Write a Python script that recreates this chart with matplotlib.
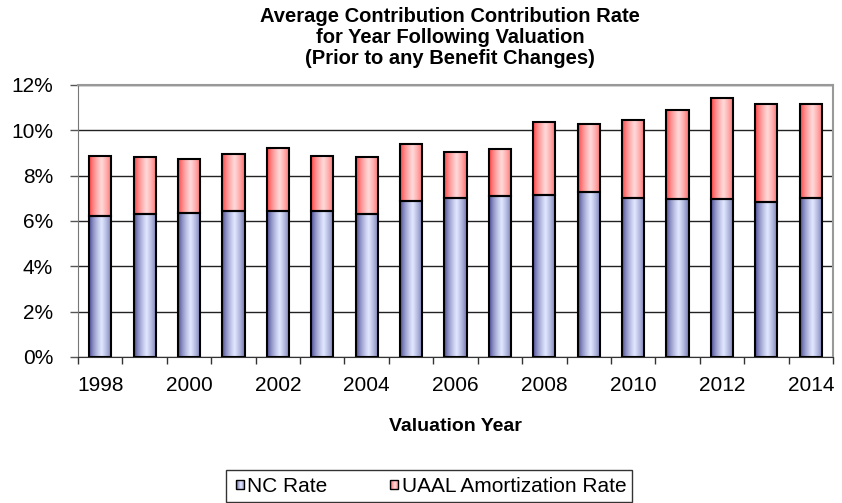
import matplotlib
matplotlib.use("Agg")
import matplotlib.pyplot as plt
import numpy as np
from matplotlib.patches import Rectangle
from matplotlib.ticker import PercentFormatter
from matplotlib.legend_handler import HandlerBase
from matplotlib.image import BboxImage
from matplotlib.transforms import Bbox, TransformedBbox

plt.rcParams['font.family'] = ['Liberation Sans', 'DejaVu Sans']

years = list(range(1998, 2015))
nc_rate = [6.24, 6.30, 6.34, 6.43, 6.46, 6.46, 6.31, 6.90, 7.03,
           7.09, 7.14, 7.28, 7.00, 6.99, 6.99, 6.84, 7.03]
total_rate = [8.88, 8.81, 8.75, 8.97, 9.23, 8.88, 8.81, 9.41, 9.03,
              9.19, 10.38, 10.26, 10.45, 10.89, 11.42, 11.16, 11.17]
uaal_rate = [t - n for t, n in zip(total_rate, nc_rate)]

yticks = [0, 2, 4, 6, 8, 10, 12]


def gradient(dark, light, n=64):
    # dark edges, light middle (Excel style cylinder-ish fill)
    x = np.linspace(0, 1, n)
    w = np.clip(1 - np.abs(x - 0.55) / 0.55, 0, 1) ** 0.6
    dark = np.array(dark) / 255.0
    light = np.array(light) / 255.0
    img = dark[None, :] * (1 - w[:, None]) + light[None, :] * w[:, None]
    return img[None, :, :]


blue_grad = gradient((50, 50, 130), (225, 232, 255))
red_grad = gradient((255, 40, 40), (255, 218, 218))

fig = plt.figure(figsize=(8.42, 5.03), dpi=100)
ax = fig.add_axes([78 / 842, 1 - 357 / 503, (833 - 78) / 842, (357 - 85) / 503])

x = np.arange(len(years))
width = 0.5


def draw_bars(bottoms, heights, grad):
    bars = ax.bar(x, heights, width, bottom=bottoms, facecolor='none',
                  edgecolor='black', linewidth=1.5, zorder=4)
    for b in bars:
        bx, by = b.get_x(), b.get_y()
        im = ax.imshow(grad, extent=(bx, bx + b.get_width(), by, by + b.get_height()),
                       aspect='auto', interpolation='bilinear', zorder=3)
        clip = Rectangle((bx, by), b.get_width(), b.get_height(), transform=ax.transData)
        im.set_clip_path(clip)


draw_bars([0] * len(years), nc_rate, blue_grad)
draw_bars(nc_rate, uaal_rate, red_grad)

ax.set_xlim(-0.5, len(years) - 0.5)
ax.set_ylim(0, 12)
ax.set_yticks(yticks)
ax.yaxis.set_major_formatter(PercentFormatter(decimals=0))
ax.grid(axis='y', color='#222222', linewidth=1, zorder=1)
ax.set_axisbelow(True)

ax.set_xticks(x[::2])
ax.set_xticklabels([str(y) for y in years[::2]])
ax.set_xticks(np.arange(-0.5, len(years), 1), minor=True)
ax.tick_params(axis='x', which='major', length=0, labelsize=15, pad=14)
ax.tick_params(axis='x', which='minor', length=5, width=1, color='#333333', direction='out')
ax.tick_params(axis='y', length=6, width=1, color='#555555', labelsize=15, pad=12)

for s in ['top', 'right']:
    ax.spines[s].set_color('#999999')
    ax.spines[s].set_linewidth(1.5)
ax.spines['left'].set_color('#777777')
ax.spines['bottom'].set_color('#333333')

ax.set_xlabel('Valuation Year', fontsize=14, fontweight='bold', labelpad=16)

fig.text(450 / 842, 1 - 7 / 503,
         'Average Contribution Contribution Rate\nfor Year Following Valuation\n(Prior to any Benefit Changes)',
         ha='center', va='top', fontsize=14.5, fontweight='bold', linespacing=1.15)


class GradHandler(HandlerBase):
    def __init__(self, grad):
        super().__init__()
        self.grad = grad

    def create_artists(self, legend, orig_handle, xdescent, ydescent, width, height, fontsize, trans):
        s = height * 0.6
        x0 = xdescent + width - s
        y0 = -ydescent + (height - s) / 2
        bb = TransformedBbox(Bbox.from_bounds(x0, y0, s, s), trans)
        im = BboxImage(bb, interpolation='bilinear')
        im.set_data(self.grad)
        r = Rectangle((x0, y0), s, s, facecolor='none', edgecolor='black',
                      linewidth=1, transform=trans)
        return [im, r]


h1 = Rectangle((0, 0), 1, 1)
h2 = Rectangle((0, 0), 1, 1, facecolor='red')
leg = fig.legend([h1, h2], ['NC Rate', 'UAAL Amortization Rate'], loc='center',
                 bbox_to_anchor=(429 / 842, 1 - 486 / 503), ncol=2, fontsize=15,
                 frameon=True, fancybox=False, edgecolor='black',
                 handlelength=0.6, handletextpad=0.15, columnspacing=2.8,
                 borderpad=0.3, borderaxespad=0,
                 handler_map={h1: GradHandler(blue_grad), h2: GradHandler(red_grad)})
leg.get_frame().set_linewidth(1)

fig.savefig('out.png', dpi=100)
